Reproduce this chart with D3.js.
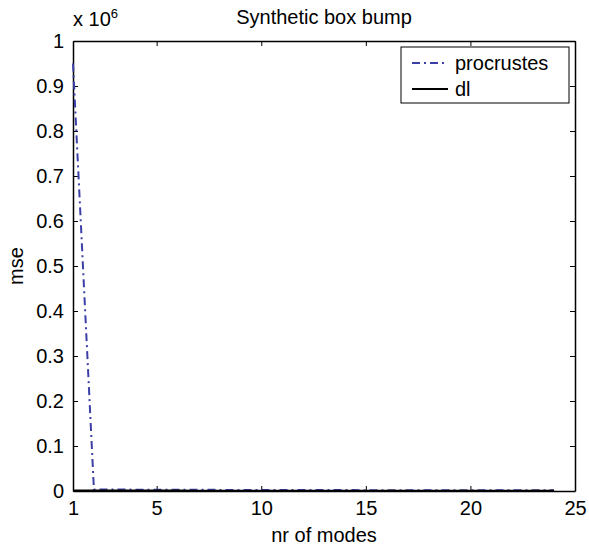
<!DOCTYPE html>
<html>
<head>
<meta charset="utf-8">
<script src="https://cdn.jsdelivr.net/npm/d3@7"></script>
<style>
  body { margin: 0; background: #fff; }
  text { font-family: "Liberation Sans", Arial, sans-serif; fill: #000; }
</style>
</head>
<body>
<div id="chart"></div>
<script>
// data (values in units of 1e6 for mse)
const modes = d3.range(1, 25);
const procrustes = [0.95, 0.0035, 0.0032, 0.003, 0.0028, 0.0027, 0.0026, 0.0025, 0.0024, 0.0023, 0.0022, 0.0021,
                    0.002, 0.002, 0.0019, 0.0019, 0.0018, 0.0018, 0.0017, 0.0017, 0.0016, 0.0016, 0.0015, 0.0015];
const dl = [0.0012, 0.0011, 0.001, 0.001, 0.0009, 0.0009, 0.0008, 0.0008, 0.0008, 0.0007, 0.0007, 0.0007,
            0.0006, 0.0006, 0.0006, 0.0006, 0.0005, 0.0005, 0.0005, 0.0005, 0.0005, 0.0004, 0.0004, 0.0004];
const xTicks = [1, 5, 10, 15, 20, 25];
const yTicks = d3.range(0, 11).map(d => d / 10);

const W = 589, H = 550;
const margin = {top: 41, right: 14, bottom: 59, left: 73},
  width = W - margin.left - margin.right,
  height = H - margin.top - margin.bottom;
const fs = "20px";

const svg = d3.select("#chart").append("svg")
  .attr("width", W).attr("height", H);
const g = svg.append("g").attr("transform", `translate(${margin.left},${margin.top})`);

const x = d3.scaleLinear().domain([1, 25]).range([0, width]);
const y = d3.scaleLinear().domain([0, 1]).range([height, 0]);

// axes (MATLAB style: ticks inside, box around)
const fmtY = d => d === 0 ? "0" : d === 1 ? "1" : d3.format(".1f")(d);
g.append("g").attr("transform", `translate(0,${height})`)
  .call(d3.axisBottom(x).tickValues(xTicks).tickSizeInner(-5).tickSizeOuter(0).tickPadding(10))
  .call(a => a.selectAll("text").style("font-size", fs));
g.append("g")
  .call(d3.axisTop(x).tickValues(xTicks).tickSizeInner(-5).tickSizeOuter(0).tickFormat(""));
g.append("g")
  .call(d3.axisLeft(y).tickValues(yTicks).tickSizeInner(-5).tickSizeOuter(0).tickPadding(9).tickFormat(fmtY))
  .call(a => a.selectAll("text").style("font-size", fs));
g.append("g").attr("transform", `translate(${width},0)`)
  .call(d3.axisRight(y).tickValues(yTicks).tickSizeInner(-5).tickSizeOuter(0).tickFormat(""));
g.selectAll(".domain").attr("stroke", "#000").attr("stroke-width", 1.5);
g.selectAll(".tick line").attr("stroke", "#000");
g.selectAll(".tick text").attr("font-family", "Liberation Sans, Arial, sans-serif");

const line = d3.line().x((d, i) => x(modes[i])).y(d => y(d));

g.append("path").datum(procrustes)
  .attr("d", line).attr("fill", "none")
  .attr("stroke", "#3c40a6").attr("stroke-width", 2)
  .attr("stroke-dasharray", "8,4,2,4");

g.append("path").datum(dl)
  .attr("d", line).attr("fill", "none")
  .attr("stroke", "#000").attr("stroke-width", 2);

// exponent
const ex = svg.append("text").attr("x", margin.left).attr("y", 26).style("font-size", fs);
ex.append("tspan").text("x 10");
ex.append("tspan").attr("dy", -8).style("font-size", "13px").text("6");

// title and labels
svg.append("text").attr("x", margin.left + width / 2).attr("y", 24)
  .attr("text-anchor", "middle").style("font-size", fs).text("Synthetic box bump");
svg.append("text").attr("x", margin.left + width / 2).attr("y", 542)
  .attr("text-anchor", "middle").style("font-size", fs).text("nr of modes");
svg.append("text").attr("transform", `translate(23,${margin.top + height / 2}) rotate(-90)`)
  .attr("text-anchor", "middle").style("font-size", fs).text("mse");

// legend
const lg = svg.append("g").attr("transform", "translate(401,47)");
lg.append("rect").attr("width", 168).attr("height", 56)
  .attr("fill", "#fff").attr("stroke", "#000").attr("stroke-width", 1);
const items = [
  {name: "procrustes", color: "#3c40a6", dash: "8,4,2,4"},
  {name: "dl", color: "#000", dash: null}
];
items.forEach((it, i) => {
  const yy = 16 + i * 26;
  lg.append("line").attr("x1", 11).attr("x2", 47).attr("y1", yy).attr("y2", yy)
    .attr("stroke", it.color).attr("stroke-width", 2)
    .attr("stroke-dasharray", it.dash);
  lg.append("text").attr("x", 54).attr("y", yy + 7).style("font-size", fs).text(it.name);
});
</script>
</body>
</html>
